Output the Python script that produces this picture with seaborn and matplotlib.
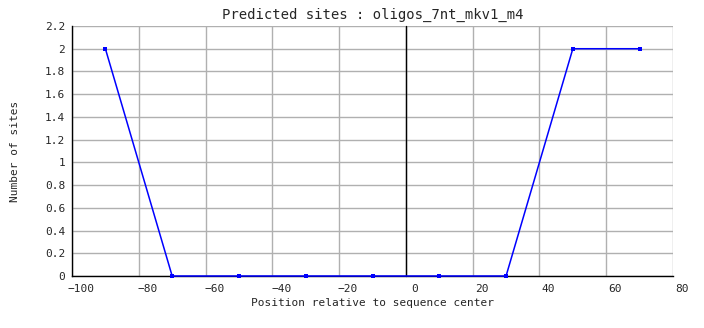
import matplotlib
matplotlib.use("Agg")
import matplotlib.pyplot as plt
import matplotlib.transforms as mtransforms
import seaborn as sns
import pandas as pd

positions = [-90, -70, -50, -30, -10, 10, 30, 50, 70]
sites = [2, 0, 0, 0, 0, 0, 0, 2, 2]
x_ticks = [-100, -80, -60, -40, -20, 0, 20, 40, 60, 80]
y_ticks = [0, 0.2, 0.4, 0.6, 0.8, 1, 1.2, 1.4, 1.6, 1.8, 2, 2.2]
y_labels = ["0", "0.2", "0.4", "0.6", "0.8", "1", "1.2", "1.4", "1.6", "1.8", "2", "2.2"]
title = "Predicted sites : oligos_7nt_mkv1_m4"
xlabel = "Position relative to sequence center"
ylabel = "Number of sites"

df = pd.DataFrame({"pos": positions, "sites": sites})

sns.set_style("white")
plt.rcParams['font.family'] = ['DejaVu Sans Mono', 'DejaVu Sans']

fig = plt.figure(figsize=(7.04, 3.28), dpi=100)
ax = fig.add_axes([72/704, 52/328, 601/704, 250/328])

ax.set_xlim(-100, 80)
ax.set_ylim(0, 2.2)
ax.set_xticks(x_ticks)
ax.set_yticks(y_ticks)
ax.set_yticklabels(y_labels)
ax.grid(True, color="#b0b0b0", linewidth=1)
ax.set_axisbelow(True)

ax.axvline(0, color="black", linewidth=1, zorder=2)

sns.lineplot(data=df, x="pos", y="sites", ax=ax, color="#0000ff", linewidth=1.1,
             marker="s", markersize=3.2, markeredgewidth=0, zorder=5)
for ln in ax.lines:
    ln.set_clip_on(False)

for side in ["top", "right"]:
    ax.spines[side].set_visible(False)
for side in ["left", "bottom"]:
    ax.spines[side].set_color("black")
    ax.spines[side].set_linewidth(1)
    ax.spines[side].set_zorder(3)

ax.tick_params(axis="x", length=0, labelsize=8, pad=6)
ax.tick_params(axis="y", length=3, labelsize=8, pad=2, direction="out", color="black")
offset = mtransforms.ScaledTranslation(9/100, 0, fig.dpi_scale_trans)
for lbl in ax.get_xticklabels():
    lbl.set_transform(lbl.get_transform() + offset)

ax.set_title(title, fontsize=10, pad=5)
ax.set_xlabel(xlabel, fontsize=8, labelpad=3)
ax.set_ylabel(ylabel, fontsize=8, labelpad=18)

fig.savefig("out.png", dpi=100)
